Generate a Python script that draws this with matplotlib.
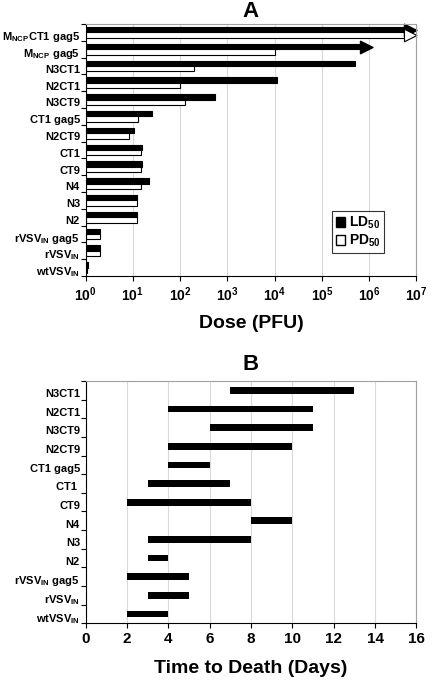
import numpy as np
import matplotlib
matplotlib.use("Agg")
import matplotlib.pyplot as plt
from matplotlib.path import Path
from matplotlib.patches import Patch
from matplotlib.ticker import FixedLocator, FuncFormatter
from matplotlib.transforms import ScaledTranslation

plt.rcParams['font.family'] = ['Liberation Sans', 'DejaVu Sans']
plt.rcParams['font.weight'] = 'bold'
plt.rcParams['mathtext.fontset'] = 'custom'
plt.rcParams['mathtext.rm'] = 'Liberation Sans:bold'
plt.rcParams['mathtext.it'] = 'Liberation Sans:bold'
plt.rcParams['mathtext.bf'] = 'Liberation Sans:bold'
plt.rcParams['mathtext.default'] = 'rm'

# panel A data (PFU)
labels_a = ['M$_{NCP}$CT1 gag5', 'M$_{NCP}$ gag5', 'N3CT1', 'N2CT1', 'N3CT9',
            'CT1 gag5', 'N2CT9', 'CT1', 'CT9', 'N4', 'N3', 'N2',
            'rVSV$_{IN}$ gag5', 'rVSV$_{IN}$', 'wtVSV$_{IN}$']
ld50 = [5.4e6, 6.3e5, 5.0e5, 1.1e4, 550, 25.5, 10.4, 15.4, 15.7, 22, 12.5, 12.5, 2.06, 2.06, 1.13]
pd50 = [5.5e6, 1.0e4, 200, 100, 130, 12.7, 8.3, 15, 15, 15, 12.3, 12.3, 2.0, 2.0, 1.1]
ld_arrow = [1, 1, 0, 0, 0, 0, 0, 0, 0, 0, 0, 0, 0, 0, 0]
pd_arrow = [1, 0, 0, 0, 0, 0, 0, 0, 0, 0, 0, 0, 0, 0, 0]

# panel B data (days)
labels_b = ['N3CT1', 'N2CT1', 'N3CT9', 'N2CT9', 'CT1 gag5', 'CT1 ', 'CT9', 'N4',
            'N3', 'N2', 'rVSV$_{IN}$ gag5', 'rVSV$_{IN}$', 'wtVSV$_{IN}$']
death_start = [7, 4, 6, 4, 4, 3, 2, 8, 3, 3, 2, 3, 2]
death_end = [13, 11, 11, 10, 6, 7, 8, 10, 8, 4, 5, 5, 4]

grid_col = '#d9d9d9'
frame_col = '#a0a0a0'
head = Path([(0, -0.5), (1, 0), (0, 0.5), (0, -0.5)],
            [Path.MOVETO, Path.LINETO, Path.LINETO, Path.CLOSEPOLY])


def style_axes(ax):
    ax.spines['top'].set_color(frame_col)
    ax.spines['right'].set_color(frame_col)
    ax.spines['left'].set_color('black')
    ax.spines['bottom'].set_color('black')
    ax.set_axisbelow(True)
    ax.grid(axis='x', color=grid_col, linewidth=0.8)
    ax.tick_params(axis='y', which='major', length=0, pad=4, labelsize=8)
    ax.tick_params(axis='y', which='minor', length=3.5, width=0.8, direction='out')
    ax.tick_params(axis='x', which='major', length=3.5, width=0.8, direction='out')
    ax.tick_params(axis='x', which='minor', length=0)
    # labels sit a little below the bar centres in the original
    shift = ScaledTranslation(0, -2 / 72, ax.figure.dpi_scale_trans)
    for lab in ax.get_yticklabels():
        lab.set_transform(lab.get_transform() + shift)


fig = plt.figure(figsize=(4.32, 6.82), dpi=100)

# ---- A ----
ax = fig.add_axes([0.198, 0.5953, 0.766, 0.3695])
n = len(labels_a)
y = np.arange(n)
h = 0.32
ax.barh(y - h / 2, np.array(ld50) - 1, height=h, left=1, color='black',
        edgecolor='black', linewidth=0.8)
ax.barh(y + h / 2, np.array(pd50) - 1, height=h, left=1, color='white',
        edgecolor='black', linewidth=0.8)
for i in range(n):
    if ld_arrow[i]:
        ax.plot(ld50[i], i - h / 2, marker=head, markersize=18, color='black', clip_on=False)
    if pd_arrow[i]:
        ax.plot(pd50[i], i + h / 2, marker=head, markersize=18, markerfacecolor='white',
                markeredgecolor='black', markeredgewidth=0.8, clip_on=False)
ax.set_xscale('log')
ax.set_xlim(1, 1e7)
ax.set_ylim(n - 0.5, -0.5)
ax.set_yticks(y)
ax.set_yticklabels(labels_a)
ax.yaxis.set_minor_locator(FixedLocator(np.arange(n + 1) - 0.5))
ax.xaxis.set_major_locator(FixedLocator([10.0 ** k for k in range(8)]))
ax.xaxis.set_major_formatter(FuncFormatter(lambda v, p: '$10^{%d}$' % round(np.log10(v))))
style_axes(ax)
ax.tick_params(axis='x', labelsize=10, pad=3)
ax.set_title('A', fontsize=16, fontweight='bold', pad=5)
ax.set_xlabel('Dose (PFU)', fontsize=14, fontweight='bold', labelpad=8)
leg = ax.legend([Patch(facecolor='black', edgecolor='black'),
                 Patch(facecolor='white', edgecolor='black')],
                ['LD$_{50}$', 'PD$_{50}$'], loc='upper left', bbox_to_anchor=(0.745, 0.256),
                fancybox=False, edgecolor='black', fontsize=10, handlelength=0.7,
                handleheight=0.7, handletextpad=0.25, labelspacing=0.1, borderpad=0.25,
                borderaxespad=0)
leg.get_frame().set_linewidth(0.8)

# ---- B ----
bx = fig.add_axes([0.198, 0.0861, 0.766, 0.3552])
m = len(labels_b)
yb = np.arange(m)
widths = np.array(death_end) - np.array(death_start)
bx.barh(yb, widths, left=death_start, height=0.36, color='black')
bx.set_xlim(0, 16)
bx.set_ylim(m - 0.5, -0.5)
bx.set_xticks(np.arange(0, 17, 2))
bx.set_yticks(yb)
bx.set_yticklabels(labels_b)
bx.yaxis.set_minor_locator(FixedLocator(np.arange(m + 1) - 0.5))
style_axes(bx)
bx.tick_params(axis='x', labelsize=11, pad=3)
bx.set_title('B', fontsize=16, fontweight='bold', pad=8)
bx.set_xlabel('Time to Death (Days)', fontsize=14, fontweight='bold', labelpad=10)

fig.savefig('out.png', dpi=100)
